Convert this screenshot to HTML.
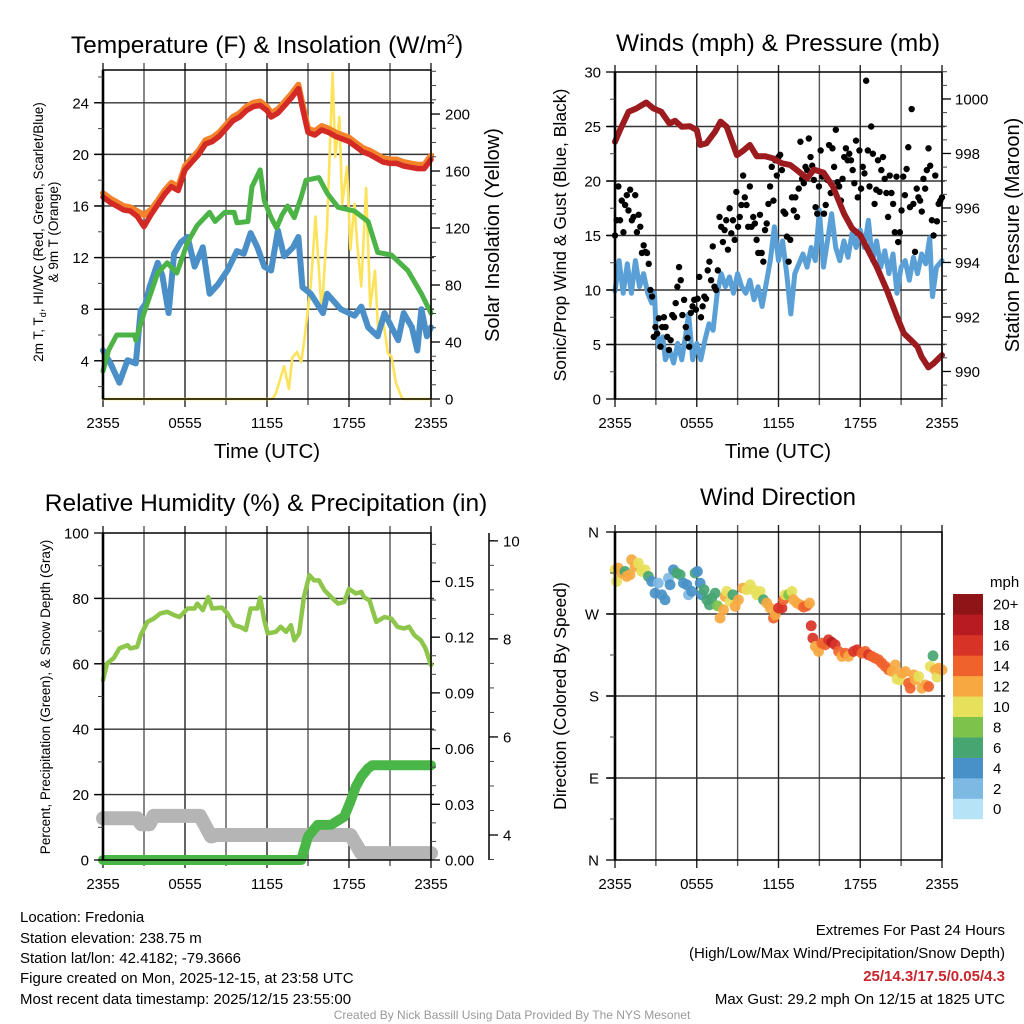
<!DOCTYPE html>
<html><head><meta charset="utf-8"><title>NYS Mesonet Fredonia</title>
<style>
html,body{margin:0;padding:0;background:#fff;}
svg{display:block;font-family:"Liberation Sans",Arial,sans-serif;}
</style></head>
<body>
<svg id="chart" xmlns="http://www.w3.org/2000/svg" width="1024" height="1024" viewBox="0 0 1024 1024">
<rect x="0" y="0" width="1024" height="1024" fill="#fff"/>
<text x="267" y="53" font-size="24.5" text-anchor="middle">Temperature (F) &amp; Insolation (W/m<tspan dy="-9" font-size="15">2</tspan><tspan dy="9">)</tspan></text>
<text x="778" y="51" font-size="24.5" text-anchor="middle">Winds (mph) &amp; Pressure (mb)</text>
<text x="266" y="511" font-size="24.5" text-anchor="middle">Relative Humidity (%) &amp; Precipitation (in)</text>
<text x="778" y="505" font-size="24" text-anchor="middle">Wind Direction</text>
<text x="267" y="458" font-size="20.5" text-anchor="middle">Time (UTC)</text>
<text x="778" y="458" font-size="20.5" text-anchor="middle">Time (UTC)</text>
<text x="43" y="232" font-size="13.5" text-anchor="middle" transform="rotate(-90 43 232)">2m T, T<tspan font-size="9" dy="3">d</tspan><tspan dy="-3">, HI/WC (Red, Green, Scarlet/Blue)</tspan></text>
<text x="58" y="232" font-size="13.5" text-anchor="middle" transform="rotate(-90 58 232)">&amp; 9m T (Orange)</text>
<text x="499" y="235" font-size="20" text-anchor="middle" transform="rotate(-90 499 235)">Solar Insolation (Yellow)</text>
<text x="566" y="235" font-size="17.5" text-anchor="middle" transform="rotate(-90 566 235)">Sonic/Prop Wind &amp; Gust (Blue, Black)</text>
<text x="1019" y="235" font-size="20" text-anchor="middle" transform="rotate(-90 1019 235)">Station Pressure (Maroon)</text>
<text x="50" y="697" font-size="13.5" text-anchor="middle" transform="rotate(-90 50 697)">Percent, Precipitation (Green), &amp; Snow Depth (Gray)</text>
<text x="566" y="696" font-size="17.5" text-anchor="middle" transform="rotate(-90 566 696)">Direction (Colored By Speed)</text>
<g font-size="15">
<text x="20" y="922">Location: Fredonia</text>
<text x="20" y="943">Station elevation: 238.75 m</text>
<text x="20" y="963">Station lat/lon: 42.4182; -79.3666</text>
<text x="20" y="983">Figure created on Mon, 2025-12-15, at 23:58 UTC</text>
<text x="20" y="1004">Most recent data timestamp: 2025/12/15 23:55:00</text>
</g>
<g font-size="15" text-anchor="end">
<text x="1005" y="935">Extremes For Past 24 Hours</text>
<text x="1005" y="958">(High/Low/Max Wind/Precipitation/Snow Depth)</text>
<text x="1005" y="981" font-weight="bold" fill="#c8262b">25/14.3/17.5/0.05/4.3</text>
<text x="1005" y="1004">Max Gust: 29.2 mph On 12/15 at 1825 UTC</text>
</g>
<text x="512" y="1019" font-size="12" fill="#999" text-anchor="middle">Created By Nick Bassill Using Data Provided By The NYS Mesonet</text>
</svg>
<script>
// ---------- data ----------
const xTickLabels = ["2355","0555","1155","1755","2355"];
const xTickHours = [0,6,12,18,24];
const redT=[0,0.5,1,1.5,2,2.5,3,3.5,4,4.5,5,5.5,6,6.5,7,7.5,8,8.5,9,9.5,10,10.5,11,11.5,12,12.3,12.8,13.3,13.8,14.3,14.6,15,15.5,16,16.5,17,17.5,18,18.5,19,19.5,20,20.5,21,21.5,22,22.5,23,23.5,24];
const redV=[16.7,16.3,16.0,15.7,15.6,15.2,14.4,15.3,16.1,16.9,17.5,17.2,18.8,19.4,20.0,20.8,21.0,21.4,22.0,22.6,22.9,23.4,23.7,23.8,23.4,22.9,23.2,23.8,24.4,25.1,23.6,21.7,21.5,21.9,21.7,21.4,21.2,21.0,20.6,20.2,20.0,19.7,19.4,19.3,19.3,19.1,19.0,18.9,18.9,19.6];
const orangeV=[17.0,16.6,16.3,16.0,15.9,15.6,15.3,15.7,16.4,17.2,17.8,17.5,19.1,19.7,20.3,21.1,21.3,21.7,22.3,22.9,23.2,23.7,24.0,24.1,23.7,23.2,23.5,24.1,24.7,25.4,23.9,22.0,21.8,22.2,22.0,21.7,21.5,21.3,20.9,20.5,20.3,20.0,19.7,19.6,19.6,19.4,19.3,19.2,19.2,19.9];
const dewT=[0,0.4,1,2.3,2.4,3,4,4.7,5.4,6.2,6.9,7.8,8.2,8.9,9.6,9.8,10.6,10.9,11.5,11.8,12.3,12.7,13.1,13.5,14,14.5,14.85,15.8,16.4,17.2,18.4,19.4,20.1,21.1,22.3,23.3,24];
const dewV=[3.2,4.8,6.0,6.0,5.6,7.7,10.8,11.6,10.8,13.2,14.5,15.5,14.8,15.5,15.5,14.7,14.8,17.5,18.8,16.4,15.1,14.3,15.3,16.0,15.1,16.7,18.0,18.2,17.0,15.9,15.6,14.8,12.4,12.2,11.0,9.2,7.7];
const chillT=[0,0.55,1.2,1.8,2.4,2.75,3.1,3.4,4,4.35,4.8,5.2,5.7,6.2,6.7,7.3,7.8,8.4,9.1,9.8,10.3,10.8,11.3,11.8,12.3,12.8,13.25,13.9,14.3,14.6,15.2,16.1,16.4,17.4,18.4,18.9,19.4,20.1,20.6,21.6,22,22.6,23,23.3,23.7,24];
const chillV=[4.8,3.8,2.3,4.05,3.8,7.9,8.4,9.7,11.6,10.6,7.7,12.3,13.2,13.6,11.3,12.8,9.2,9.9,11.0,12.5,12.3,13.9,12.8,11.3,11.0,14.1,12.1,12.8,13.6,9.7,9.2,7.7,9.2,8.0,7.5,8.2,6.6,5.9,7.7,5.6,7.7,6.6,4.8,8.0,5.9,6.6];
const solarT=[0,12.4,12.65,13.25,13.6,13.85,14.2,14.5,14.7,15.2,15.55,16,16.4,16.8,17,17.3,17.5,17.85,18.1,18.4,18.6,18.9,19.25,19.55,19.9,20.15,20.5,20.85,21.1,21.45,21.9,24];
const solarV=[0,0,4,23,7,29,33,26,39,79,128,60,121,229,170,198,137,163,105,137,109,79,148,65,90,44,55,32,30,11,0,0];
const presT=[0,0.37,1,1.6,2.3,2.8,3.4,4,4.4,4.9,5.5,6,6.25,6.7,7.35,7.75,8.2,8.95,9.4,9.9,10.4,11,11.6,12.25,12.85,13.35,14.1,14.6,15.3,16,16.8,17.4,18,18.5,19.2,19.95,20.7,21.2,21.7,22.2,22.5,23,23.4,24];
const presV=[998.43,998.86,999.53,999.66,999.87,999.66,999.53,999.1,999.2,998.98,999.0,998.86,998.31,998.37,998.8,999.17,998.98,997.94,998.1,998.31,997.9,997.9,997.82,997.64,997.58,997.39,997.09,997.41,997.3,996.78,995.8,995.25,995.0,994.52,993.85,992.99,992.01,991.4,991.16,990.91,990.54,990.15,990.3,990.6];
const sonicT=[0,0.3,0.6,0.9,1.2,1.5,1.8,2.1,2.4,2.7,2.9,3,3.2,3.5,3.7,4,4.3,4.6,4.9,5.2,5.4,5.7,6,6.3,6.6,6.9,7.2,7.5,7.8,8.1,8.4,8.7,9,9.3,9.6,9.9,10.2,10.5,10.8,11.1,11.4,11.7,12,12.3,12.6,12.9,13.2,13.5,13.8,14.1,14.4,14.7,15,15.3,15.6,15.9,16.2,16.5,16.8,17.1,17.4,17.7,18,18.3,18.6,18.9,19.2,19.5,19.8,20.1,20.4,20.7,21,21.3,21.6,21.9,22.2,22.5,22.8,23.1,23.3,23.6,24];
const sonicV=[9.9,12.7,9.7,12.4,9.7,12.7,10.3,11.5,9.7,8.8,9.7,6.6,4.8,5.7,3.6,4.5,3.3,5.1,3.6,6.0,7.8,3.6,5.1,3.6,5.4,6.9,6.3,9.7,11.5,10.3,11.2,9.7,11.5,10.3,9.7,10.9,9.1,10.3,8.5,10.6,12.7,15.8,12.7,14.5,11.5,7.8,11.5,12.4,13.3,12.1,13.9,12.7,17.3,12.1,14.5,17.0,13.9,12.7,14.5,13.0,15.2,13.9,15.5,13.9,16.4,12.7,14.5,12.1,13.6,11.5,13.3,9.7,12.1,12.7,10.9,13.0,11.5,13.3,12.4,14.8,9.4,12.1,12.7];
// gusts sampled evenly across the 24 h window
const gustV=[15.0,16.4,19.5,16.4,18.2,15.3,17.8,18.7,17.3,19.2,16.4,16.7,18.7,15.3,16.9,15.8,
13.4,14.1,13.5,13.4,12.4,10.0,9.4,5.7,6.6,6.0,7.4,4.8,6.6,7.5,6.6,5.7,4.5,5.4,7.7,7.5,8.8,10.3,12.1,10.9,7.7,9.1,6.6,5.6,4.8,7.9,8.5,9.1,8.2,9.2,11.2,7.5,8.5,9.4,9.2,11.8,12.6,10.9,14.0,10.3,10.0,11.8,16.7,15.8,14.4,15.5,16.4,13.7,17.5,15.2,16.4,14.6,19.0,15.8,16.7,17.8,20.5,18.5,17.8,15.8,
19.5,15.8,16.7,16.1,14.6,13.4,16.9,13.4,12.6,15.5,16.1,17.9,19.5,21.3,18.2,21.9,20.5,22.2,22.4,21.0,17.2,17.0,14.9,12.6,14.6,18.5,17.3,18.5,16.7,19.3,23.6,20.2,19.8,21.3,21.0,23.9,22.2,21.4,20.1,17.6,17.0,19.5,22.8,20.4,17.0,17.8,20.1,23.3,18.9,23.0,21.3,24.7,19.9,19.5,18.2,20.2,22.2,23.0,21.9,22.5,21.9,21.0,19.8,23.7,18.5,22.8,19.3,21.3,20.7,29.2,22.8,19.5,25.0,22.5,17.9,19.2,21.9,19.0,21.0,22.2,20.2,18.9,16.7,20.5,18.9,17.9,15.3,20.4,14.4,15.3,17.3,20.4,18.7,21.1,23.1,17.6,26.6,17.9,13.5,19.3,18.5,18.2,17.2,20.2,19.3,21.0,23.0,21.4,16.4,15.0,20.5,16.3,17.9,18.2,18.5];
const rhT=[0,0.3,0.8,1.2,1.8,2,2.5,2.75,3.25,3.7,4.2,4.7,5.2,5.6,6.2,6.7,6.9,7.3,7.7,8,8.7,9.1,9.6,10.1,10.45,10.8,11.3,11.5,11.8,12.05,12.65,13,13.4,13.75,14,14.35,14.7,15.1,15.45,15.8,16.2,16.7,17.2,17.65,18,18.5,18.9,19.1,19.5,20,20.6,21.1,21.55,22,22.4,22.8,23.25,23.6,24];
const rhV=[55,60.1,61.8,64.7,65.7,64.7,65.2,68.7,72.8,73.8,75.4,75.9,74.9,74.3,76.9,76.9,78.4,76.4,80.4,76.9,77.2,75.4,71.8,71.2,70.3,76.9,76.9,80.2,73.3,69.3,69.8,71.3,69.8,71.8,67.2,69.3,80.4,87.1,85.5,85.5,82.5,80.4,78.4,78.9,82.9,81.5,82.0,80.4,79.4,72.8,74.3,73.8,71.3,70.8,71.3,68.7,67.2,64.7,59.6];
const snowT=[0,2.5,2.8,3.4,3.7,7.1,7.9,8.3,18.1,18.9,24];
const snowV=[4.34,4.34,4.22,4.22,4.39,4.39,3.97,4.0,4.0,3.63,3.63];
const precT=[0,14.5,15,15.7,16.7,17.65,18.1,18.5,18.9,19.4,19.7,24];
const precV=[0,0,0.0126,0.0189,0.019,0.0233,0.0314,0.0395,0.0449,0.0494,0.051,0.051];
const dirT=[0,.12,.24,.49,.73,.86,1.1,1.22,1.47,1.71,1.96,2.2,2.45,2.69,2.94,3.18,3.43,3.67,3.92,4.04,4.29,4.53,4.78,5.02,5.27,5.39,5.63,5.88,6.05,6.25,6.37,6.54,6.74,6.93,7.1,7.35,7.52,7.71,7.96,8.08,8.2,8.45,8.65,8.82,9.06,9.38,9.67,9.92,10.16,10.41,10.65,10.9,11.14,11.39,11.63,11.76,12.0,12.25,12.37,12.49,12.74,12.98,13.1,13.35,13.59,13.84,14.08,14.28,14.4,14.52,14.7,14.94,15.18,15.43,15.67,15.92,16.16,16.41,16.65,16.9,17.14,17.51,17.76,18.12,18.37,18.61,18.86,19.1,19.35,19.59,19.84,20.08,20.33,20.57,20.7,20.94,21.06,21.31,21.55,21.67,21.92,22.04,22.29,22.53,22.78,23.02,23.14,23.34,23.51,23.63,23.76,24];
const dirD=[318.6,305.8,320.4,314.9,316.7,311.3,313.1,329.6,322.2,325.9,316.7,318.6,311.3,305.8,292.9,303.9,291.1,285.6,309.4,302.1,318.6,314.9,313.1,303.9,302.1,291.1,294.8,314.9,316.7,303.9,291.1,296.6,285.6,280.1,287.5,292.9,279.0,265.5,274.6,289.3,294.8,283.8,291.1,278.3,285.6,298.4,296.6,302.1,296.6,291.1,294.8,285.6,282.0,276.5,265.5,269.1,276.5,276.5,285.6,291.1,291.1,294.8,285.6,282.0,280.1,277.6,279.0,282.0,257.1,243.5,234.4,228.9,238.0,236.2,241.7,238.8,236.2,228.9,223.4,227.0,223.4,228.9,230.7,227.0,228.9,225.2,223.4,221.5,219.7,216.0,212.4,208.7,206.9,214.2,198.5,197.7,205.1,206.9,194.1,188.6,203.2,197.7,201.4,188.6,192.2,190.4,212.4,224.1,208.7,200.7,210.5,208.7];
const dirS=[10,10,12,13,7,12,12,13,12,10,10,10,7,4,4,3,4,4,3,4,4,6,6,4,4,3,4,6,4,4,4,6,6,7,7,7,8,12,12,12,10,10,7,12,12,12,10,10,10,10,10,7,12,12,14,13,16,16,14,10,8,10,12,12,12,14,14,12,16,16,13,12,14,14,16,18,16,14,13,14,12,16,16,14,14,16,14,14,14,14,14,14,12,12,10,10,12,12,14,14,12,12,10,12,12,14,10,7,12,10,12,12];
const speedBinColors=["#b7e3f7","#7eb9e4","#4891c8","#47a572","#7cc24b","#e6e05a","#f7a841","#f0622c","#d83327","#b81b22","#8f1418"];
const speedBinLabels=["0","2","4","6","8","10","12","14","16","18","20+"];

// ---------- helpers ----------
const NS="http://www.w3.org/2000/svg";
const svg=document.getElementById('chart');
function mk(tag,a,parent){const e=document.createElementNS(NS,tag);for(const k in a)e.setAttribute(k,a[k]);(parent||svg).appendChild(e);return e;}
function lin(d0,d1,r0,r1){return v=>r0+(v-d0)/(d1-d0)*(r1-r0);}
function pathD(ts,vs,xs,ys){let d='';for(let i=0;i<ts.length;i++){d+=(i?'L':'M')+xs(ts[i]).toFixed(1)+','+ys(vs[i]).toFixed(1);}return d;}

const P1={l:103,r:431,t:70,b:399}, P2={l:615,r:942,t:72,b:399}, P3={l:103,r:431,t:533,b:860}, P4={l:615,r:942,t:532,b:860};
const x1=lin(0,24,P1.l,P1.r), x2=lin(0,24,P2.l,P2.r), x3=lin(0,24,P3.l,P3.r), x4=lin(0,24,P4.l,P4.r);
const yTemp=lin(1.04,26.54,P1.b,P1.t), ySolar=lin(0,230.9,P1.b,P1.t);
const ySpeed=lin(0,30,P2.b,P2.t), yPres=lin(988.99,1000.99,P2.b,P2.t);
const yRH=lin(0,100,P3.b,P3.t), yPrec=lin(0,0.1761,P3.b,P3.t), ySnow=lin(3.49,10.16,P3.b,P3.t);
const yDir=lin(0,360,P4.b,P4.t);

function grid(P,xs,ys,hv,name){
  const g=mk('g',{});
  
  
  for(let h=0;h<=24;h+=3){
    const ln=mk('line',{x1:xs(h),x2:xs(h),y1:P.t-7,y2:P.b+(h%6===0?8:6),stroke:(h%6===0)?'#222':'#555','stroke-width':1.4},g);
    
    
  }
  hv.forEach(v=>{
    const ln=mk('line',{x1:P.l-8,x2:P.r+3,y1:ys(v),y2:ys(v),stroke:'#333','stroke-width':1.4},g);
    
    
  });
  xTickHours.forEach((h,i)=>{
    const t=mk('text',{x:xs(h),y:P.b+29,'font-size':15,'text-anchor':'middle'},g);
    t.textContent=xTickLabels[i];
    
    
  });
}
function frame(P,name){
  const r=mk('rect',{x:P.l,y:P.t,width:P.r-P.l,height:P.b-P.t,fill:'none',stroke:'#000','stroke-width':1.5});
  
  
  const s=mk('line',{x1:P.l,x2:P.l,y1:P.t,y2:P.b,stroke:'#000','stroke-width':2.6});
  
  
}
function yAxis(x,ys,majors,labels,minors,side,labelOff,name,yMin,yMax){
  const g=mk('g',{});
  
  
  const dir=side==='left'?-1:1;
  if(yMin!==undefined){
    const sp=mk('line',{x1:x,x2:x,y1:yMin,y2:yMax,stroke:'#000','stroke-width':1.5},g);
    
    
  }
  minors.forEach(v=>{
    const ln=mk('line',{x1:x,x2:x+dir*5,y1:ys(v),y2:ys(v),stroke:'#444','stroke-width':1},g);
    
    
  });
  majors.forEach((v,i)=>{
    const ln=mk('line',{x1:x,x2:x+dir*9,y1:ys(v),y2:ys(v),stroke:'#000','stroke-width':1.3},g);
    
    
    const t=mk('text',{x:x+dir*labelOff,y:ys(v)+5.5,'font-size':15,'text-anchor':side==='left'?'end':'start'},g);
    t.textContent=labels[i];
    
    
  });
}
function range(a,b,s){const o=[];for(let v=a;v<=b+1e-9;v+=s)o.push(+v.toFixed(4));return o;}
function line(d,color,w,name,opacity){
  const p=mk('path',{d:d,fill:'none',stroke:color,'stroke-width':w,'stroke-linejoin':'round','stroke-linecap':'round',opacity:opacity||1});
  
  
  return p;
}

// ---------- panel 1 ----------
grid(P1,x1,yTemp,[4,8,12,16,20,24],'temperature');
line(pathD(solarT,solarV,x1,ySolar),'#fde35b',2.6,'solar-insolation-line');
line(pathD(chillT,chillV,x1,yTemp),'#4a8fc8',6,'wind-chill-line');
line(pathD(dewT,dewV,x1,yTemp),'#4cb447',5,'dewpoint-line');
line(pathD(redT,orangeV,x1,yTemp),'#f2832b',6,'temp-9m-line');
line(pathD(redT,redV,x1,yTemp),'#d42a26',5.5,'temp-2m-line');
frame(P1,'temperature');
yAxis(P1.l,yTemp,[4,8,12,16,20,24],['4','8','12','16','20','24'],range(2,26,2),'left',14,'temperature-y-axis');
yAxis(P1.r,ySolar,[0,40,80,120,160,200],['0','40','80','120','160','200'],range(0,230,10),'right',14,'solar-y-axis');

// ---------- panel 2 ----------
grid(P2,x2,ySpeed,[5,10,15,20,25],'winds');
line(pathD(sonicT,sonicV,x2,ySpeed),'#5a9fd6',5,'sonic-wind-line');
const gG=mk('g',{});


gustV.forEach((v,i)=>{
  const c=mk('circle',{cx:x2(i/(gustV.length-1)*24),cy:ySpeed(v),r:3.2,fill:'#000'},gG);
  
  
});
line(pathD(presT,presV,x2,yPres),'#9b1b1e',6,'station-pressure-line');
frame(P2,'winds');
yAxis(P2.l,ySpeed,[0,5,10,15,20,25,30],['0','5','10','15','20','25','30'],range(0,30,2.5),'left',14,'wind-speed-y-axis');
yAxis(P2.r,yPres,[990,992,994,996,998,1000],['990','992','994','996','998','1000'],range(989,1001,0.5),'right',13,'pressure-y-axis');

// ---------- panel 3 ----------
grid(P3,x3,yRH,[20,40,60,80],'humidity');
line(pathD(snowT,snowV,x3,ySnow),'#b5b5b5',14,'snow-depth-line');
line(pathD(precT,precV,x3,yPrec),'#4bb648',10,'precipitation-line');
line(pathD(rhT,rhV,x3,yRH),'#8dc64b',4.5,'relative-humidity-line');
frame(P3,'humidity');
yAxis(P3.l,yRH,[0,20,40,60,80,100],['0','20','40','60','80','100'],range(0,100,10),'left',14,'humidity-y-axis');
yAxis(P3.r,yPrec,[0,0.03,0.06,0.09,0.12,0.15],['0.00','0.03','0.06','0.09','0.12','0.15'],range(0,0.17,0.01),'right',14,'precipitation-y-axis');
yAxis(489,ySnow,[4,6,8,10],['4','6','8','10'],range(3.5,10,0.5),'right',14,'snow-depth-y-axis',P3.t,P3.b);

// ---------- panel 4 ----------
grid(P4,x4,yDir,[90,180,270],'direction');
const dG=mk('g',{});


dirT.forEach((t,i)=>{
  const bin=Math.min(10,Math.floor(dirS[i]/2));
  const c=mk('circle',{cx:x4(t),cy:yDir(dirD[i]),r:5.4,fill:speedBinColors[bin],opacity:0.92},dG);
  
  
});
frame(P4,'direction');
yAxis(P4.l,yDir,[0,90,180,270,360],['N','E','S','W','N'],range(0,360,45),'left',16,'direction-y-axis');
// colorbar
const cb=mk('g',{});


const cbTop=594, cbH=20.45;
speedBinColors.forEach((col,i)=>{
  const k=speedBinColors.length-1-i;
  const r=mk('rect',{x:953,y:cbTop+k*cbH,width:30,height:cbH+0.3,fill:col},cb);
  
  
  const t=mk('text',{x:993,y:cbTop+k*cbH+cbH/2+5.5,'font-size':15},cb);
  t.textContent=speedBinLabels[i];
  
  
});
const mph=mk('text',{x:990,y:587,'font-size':15},cb);
mph.textContent='mph';


</script>
</body></html>
